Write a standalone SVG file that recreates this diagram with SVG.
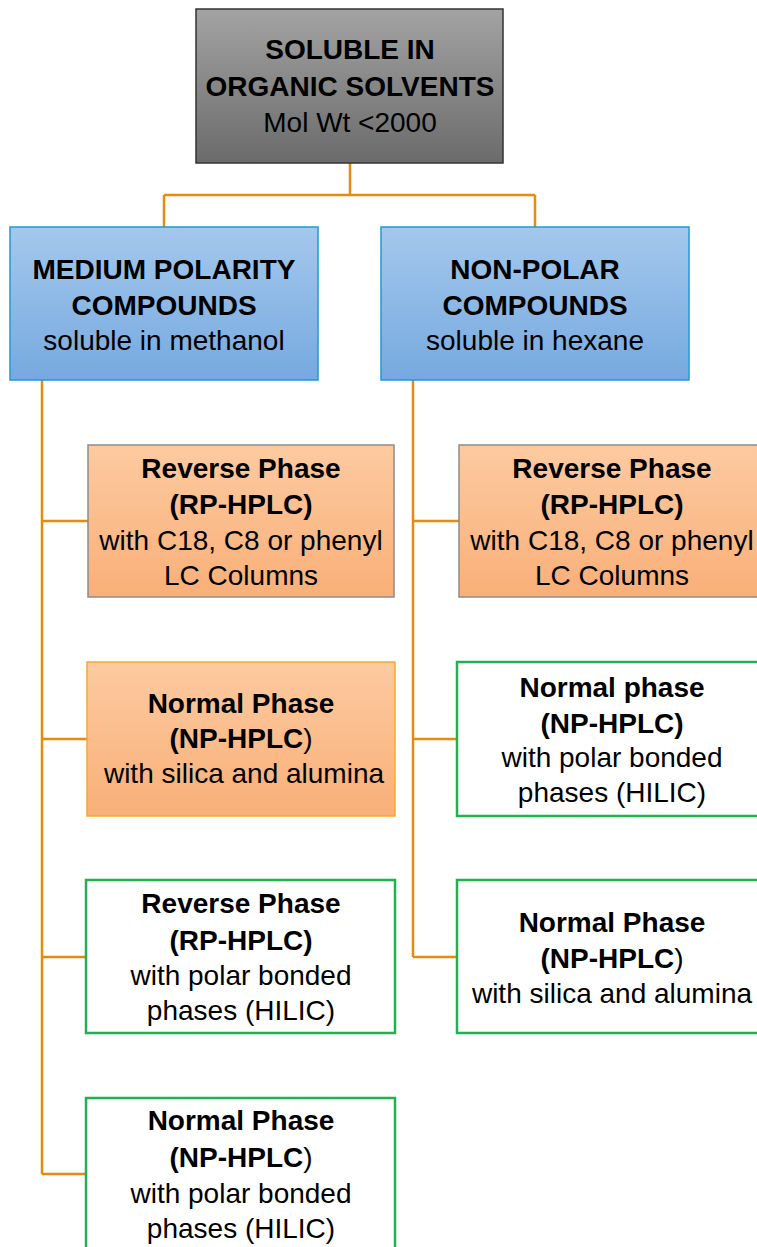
<svg xmlns="http://www.w3.org/2000/svg" width="757" height="1247" viewBox="0 0 757 1247">
<defs>
<linearGradient id="gGray" x1="0" y1="0" x2="0" y2="1"><stop offset="0" stop-color="#a3a3a3"/><stop offset="1" stop-color="#6b6b6b"/></linearGradient>
<linearGradient id="gBlue" x1="0" y1="0" x2="0" y2="1"><stop offset="0" stop-color="#a4c8ec"/><stop offset="1" stop-color="#76a9e0"/></linearGradient>
<linearGradient id="gOrange" x1="0" y1="0" x2="0" y2="1"><stop offset="0" stop-color="#fdcaa0"/><stop offset="1" stop-color="#f9af78"/></linearGradient>
<style>
text{font-family:"Liberation Sans",Arial,sans-serif;font-size:28px;fill:#000;text-anchor:middle}
.b{font-weight:bold}
.n{font-weight:normal}
.top{fill:url(#gGray);stroke:#333;stroke-width:1.5}
.blue{fill:url(#gBlue);stroke:#1e9ad6;stroke-width:1.5}
.orgG{fill:url(#gOrange);stroke:#8c8c8c;stroke-width:1.5}
.orgO{fill:url(#gOrange);stroke:#f7a928;stroke-width:1.5}
.grn{fill:#fff;stroke:#1fb24f;stroke-width:2.5}
.c{fill:none;stroke:#e68b0c;stroke-width:2.5}
</style>
</defs>
<g id="connectors">
<path class="c" d="M350 163 V195 M164 195 H535 M164 195 V227 M535 195 V227"/>
<path class="c" d="M42 380 V1174 M42 521 H88 M42 739 H87 M42 957 H86 M42 1174 H86"/>
<path class="c" d="M413 380 V957 M413 521 H459 M413 739 H457 M413 957 H457"/>
</g>
<g id="root">
<rect class="top" x="196" y="9" width="307" height="154"/>
<text class="b" x="350" y="59">SOLUBLE IN</text>
<text class="b" x="350" y="96">ORGANIC SOLVENTS</text>
<text x="350" y="132">Mol Wt &lt;2000</text>
</g>
<g id="medium">
<rect class="blue" x="10" y="227" width="308" height="153"/>
<text class="b" x="164" y="279">MEDIUM POLARITY</text>
<text class="b" x="164" y="315">COMPOUNDS</text>
<text x="164" y="350">soluble in methanol</text>
</g>
<g id="nonpolar">
<rect class="blue" x="381" y="227" width="308" height="153"/>
<text class="b" x="535" y="279">NON-POLAR</text>
<text class="b" x="535" y="315">COMPOUNDS</text>
<text x="535" y="350">soluble in hexane</text>
</g>
<g id="m-rp-c18">
<rect class="orgG" x="88" y="445" width="306" height="152"/>
<text class="b" x="241" y="478">Reverse Phase</text>
<text class="b" x="241" y="514">(RP-HPLC)</text>
<text x="241" y="550">with C18, C8 or phenyl</text>
<text x="241" y="585">LC Columns</text>
</g>
<g id="m-np-silica">
<rect class="orgO" x="87" y="662" width="308" height="154"/>
<text class="b" x="241" y="713">Normal Phase</text>
<text class="b" x="241" y="748">(NP-HPLC<tspan class="n">)</tspan></text>
<text x="244" y="783">with silica and alumina</text>
</g>
<g id="m-rp-hilic">
<rect class="grn" x="86" y="880" width="309" height="153"/>
<text class="b" x="241" y="913">Reverse Phase</text>
<text class="b" x="241" y="950">(RP-HPLC)</text>
<text x="241" y="985">with polar bonded</text>
<text x="241" y="1020">phases (HILIC)</text>
</g>
<g id="m-np-hilic">
<rect class="grn" x="86" y="1098" width="309" height="160"/>
<text class="b" x="241" y="1130">Normal Phase</text>
<text class="b" x="241" y="1167">(NP-HPLC<tspan class="n">)</tspan></text>
<text x="241" y="1203">with polar bonded</text>
<text x="241" y="1238">phases (HILIC)</text>
</g>
<g id="n-rp-c18">
<rect class="orgG" x="459" y="445" width="306" height="152"/>
<text class="b" x="612" y="478">Reverse Phase</text>
<text class="b" x="612" y="514">(RP-HPLC)</text>
<text x="612" y="550">with C18, C8 or phenyl</text>
<text x="612" y="585">LC Columns</text>
</g>
<g id="n-np-hilic">
<rect class="grn" x="457" y="662" width="308" height="154"/>
<text class="b" x="612" y="697">Normal phase</text>
<text class="b" x="612" y="733">(NP-HPLC)</text>
<text x="612" y="767">with polar bonded</text>
<text x="612" y="802">phases (HILIC)</text>
</g>
<g id="n-np-silica">
<rect class="grn" x="457" y="880" width="308" height="153"/>
<text class="b" x="612" y="932">Normal Phase</text>
<text class="b" x="612" y="968">(NP-HPLC<tspan class="n">)</tspan></text>
<text x="612" y="1003">with silica and alumina</text>
</g>
</svg>
